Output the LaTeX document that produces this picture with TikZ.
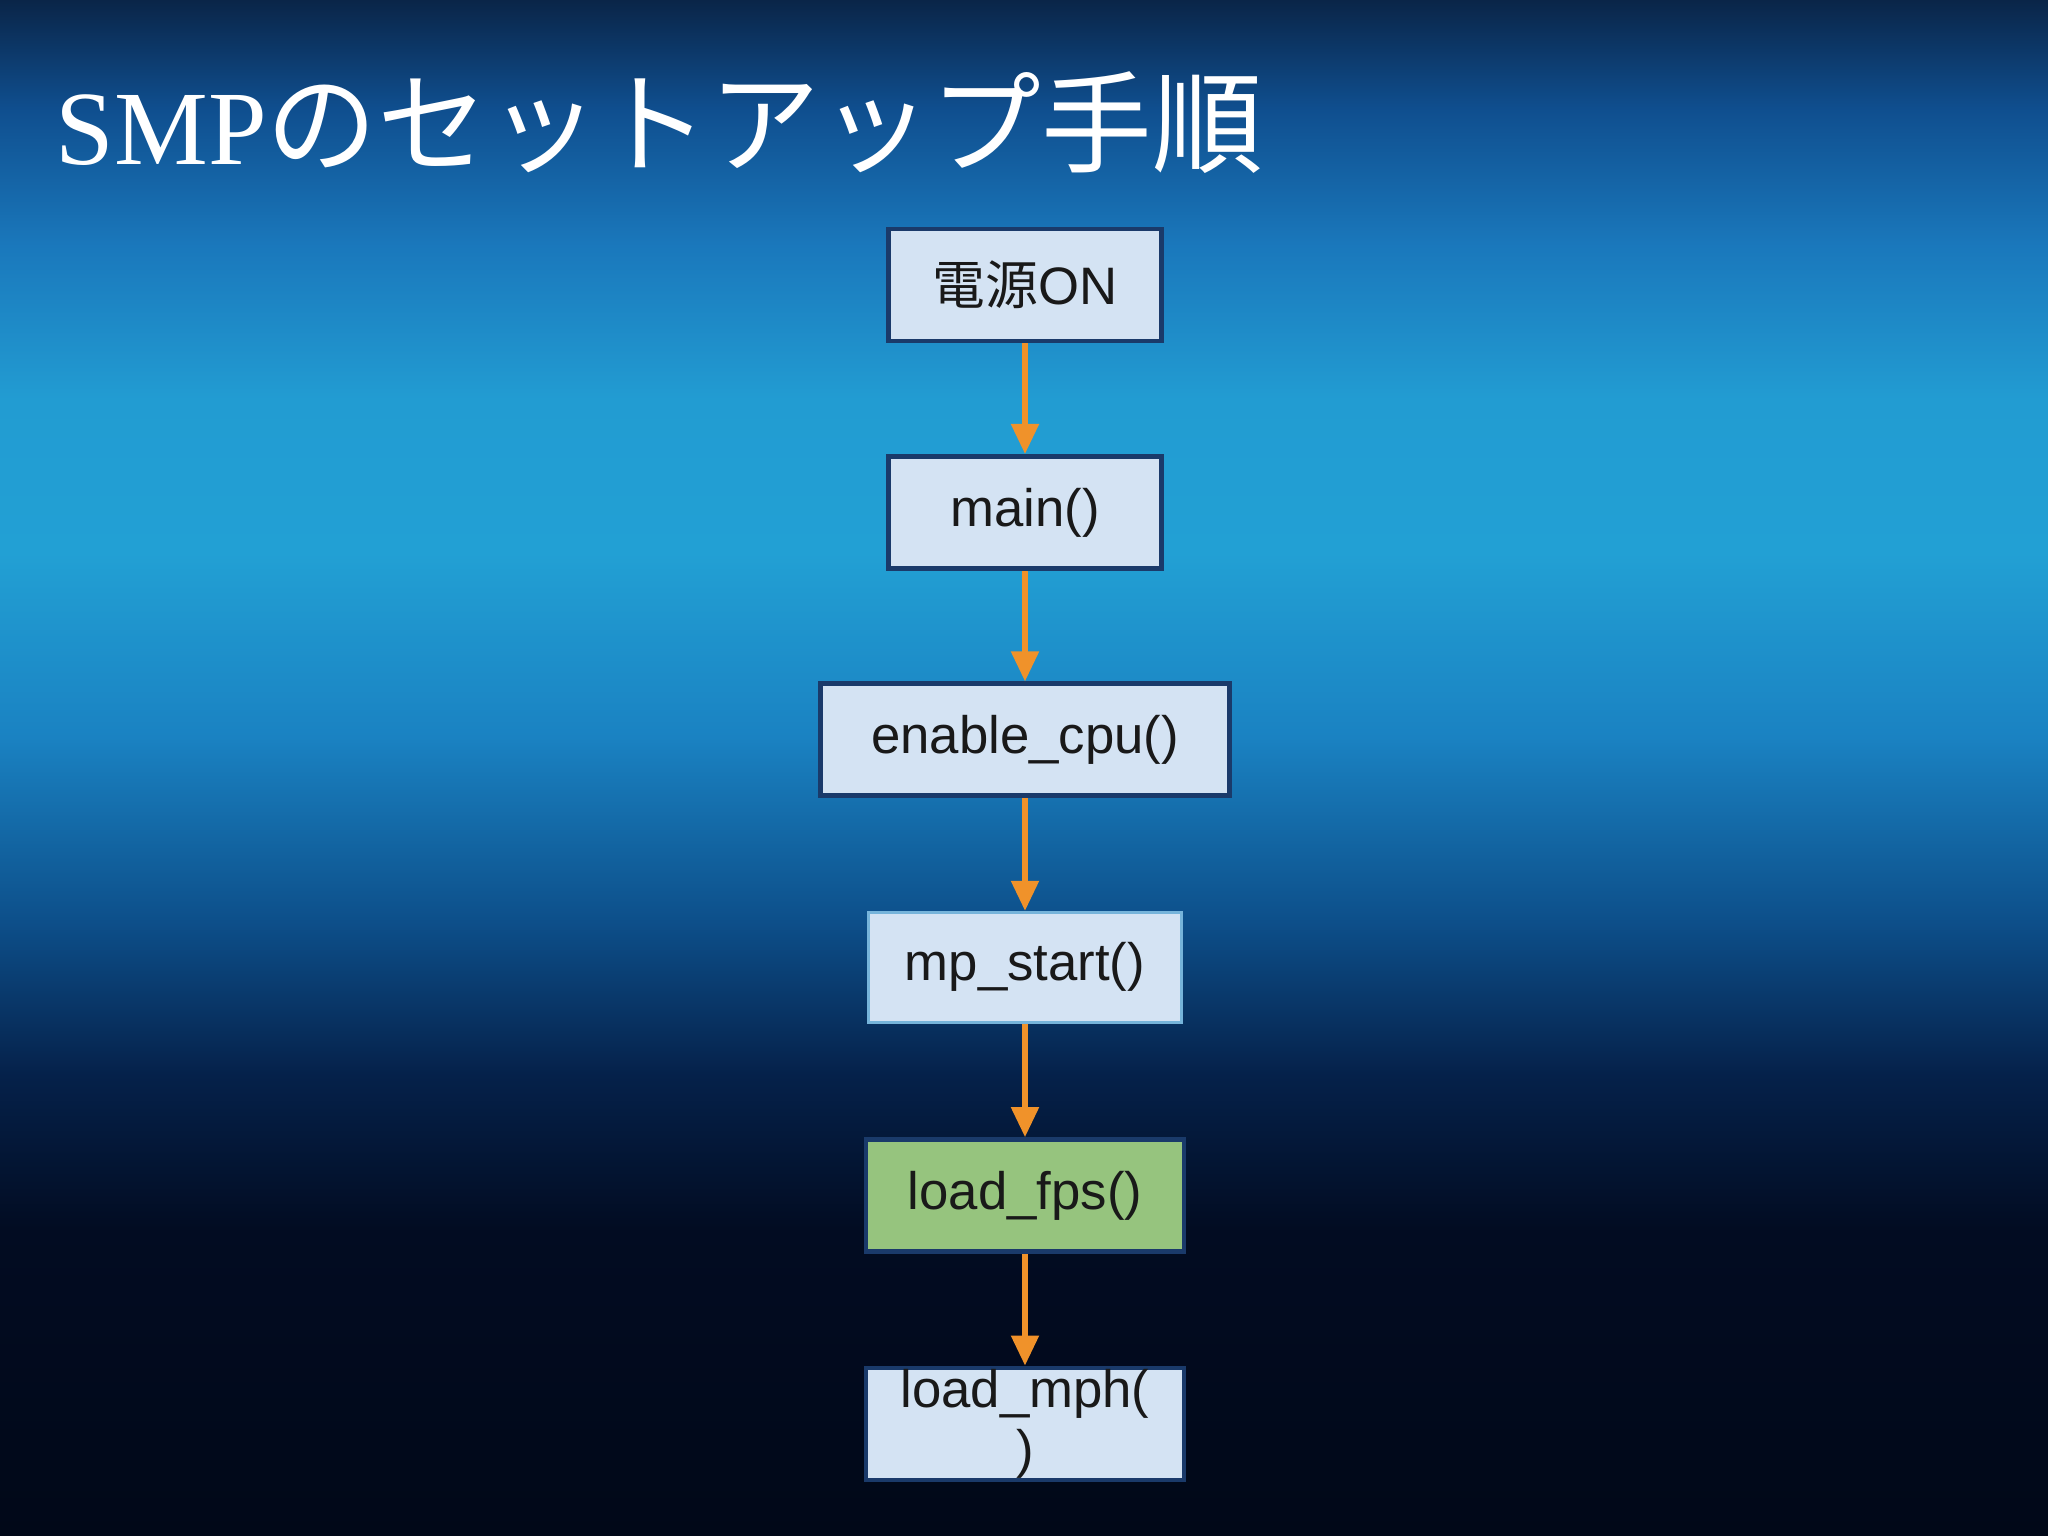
\documentclass[tikz,border=0pt]{standalone}
\usepackage{fontspec}
\setmainfont{Liberation Serif}
\setsansfont{Liberation Sans}
\newfontfamily\jpfont{Noto Sans CJK JP}
\usetikzlibrary{positioning,arrows.meta}

\definecolor{bgA}{HTML}{010818}
\definecolor{bgB}{HTML}{020C22}
\definecolor{bgC}{HTML}{05214A}
\definecolor{bgD}{HTML}{0D4F8A}
\definecolor{bgE}{HTML}{1A82C2}
\definecolor{bgF}{HTML}{22A0D4}
\definecolor{bgG}{HTML}{229CD2}
\definecolor{bgH}{HTML}{1A78BC}
\definecolor{bgI}{HTML}{0F4E8E}
\definecolor{bgJ}{HTML}{0A2548}
\definecolor{boxfill}{HTML}{D4E3F3}
\definecolor{boxline}{HTML}{1A3A6A}
\definecolor{fpsfill}{HTML}{96C47E}
\definecolor{arrowcol}{HTML}{F0922A}

% only 25bp..75bp of the shading is used on the path
\pgfdeclareverticalshading{slidebg}{100bp}{color(0bp)=(bgA); color(25bp)=(bgA); color(35bp)=(bgB); color(40bp)=(bgC); color(45bp)=(bgD); color(51bp)=(bgE); color(57bp)=(bgF); color(62bp)=(bgG); color(67bp)=(bgH); color(71.5bp)=(bgI); color(75bp)=(bgJ); color(100bp)=(bgJ)}

\tikzset{
  procbox/.style={draw=boxline, line width=1.4pt, fill=boxfill, minimum height=1.12cm,
    inner sep=0pt, align=center, font=\sffamily\fontsize{15}{17}\selectfont, text=black!90},
  flowarrow/.style={draw=arrowcol, line width=1.5pt, -{Triangle[width=0.27cm,length=0.3cm]}, arrowcol},
}

\begin{document}
\begin{tikzpicture}

\shade[shading=slidebg] (0,0) rectangle (20.48,-15.36);
\useasboundingbox (0,0) rectangle (20.48,-15.36);

% title
\node[anchor=base west, text=white, inner sep=0pt, font=\fontsize{30}{36}\selectfont] (title) at (0.55,-1.65)
  {SMP{\jpfont\fontsize{31.5}{38}\selectfont のセットアップ手順}};

\node[procbox, minimum width=2.73cm] (power) at (10.25,-2.85) {{\jpfont 電源}ON};
\node[procbox, minimum width=2.73cm, below=1.105cm of power] (mainfn) {main()};
\node[procbox, minimum width=4.09cm, below=1.105cm of mainfn] (enablecpu) {enable\_cpu()};
\node[procbox, minimum width=3.13cm, minimum height=1.10cm, draw=bgE!60!white, line width=0.8pt,
  below=1.125cm of enablecpu] (mpstart) {mp\_start()};
\node[procbox, minimum width=3.18cm, fill=fpsfill, below=1.135cm of mpstart] (loadfps) {load\_fps()};
\node[procbox, minimum width=3.18cm, below=1.115cm of loadfps] (loadmph) {load\_mph(\\)};

\draw[flowarrow] (power) -- (mainfn);
\draw[flowarrow] (mainfn) -- (enablecpu);
\draw[flowarrow] (enablecpu) -- (mpstart);
\draw[flowarrow] (mpstart) -- (loadfps);
\draw[flowarrow] (loadfps) -- (loadmph);

\end{tikzpicture}
\end{document}
